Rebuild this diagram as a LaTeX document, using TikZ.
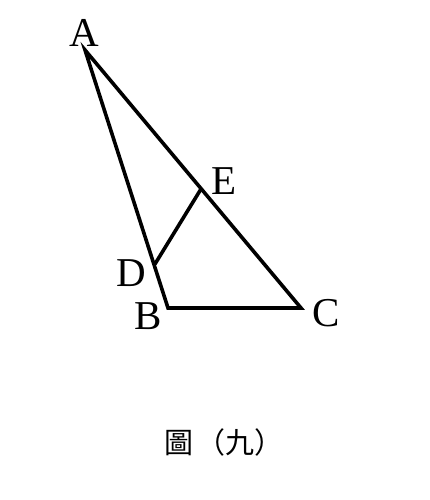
\documentclass[tikz,border=0pt]{standalone}
\usepackage{fontspec}
\setmainfont{Liberation Serif}
\newfontfamily\cjk{Noto Sans CJK TC}
\begin{document}
\begin{tikzpicture}[x=1pt,y=-1pt,
  edge/.style={line width=3.6pt,line join=miter,line cap=butt},
  lbl/.style={font=\fontsize{41}{41}\selectfont,inner sep=0pt},
  captext/.style={font=\cjk\fontsize{29}{29}\selectfont,inner sep=0pt}]
\useasboundingbox (0,0) rectangle (430,500);
\coordinate (A) at (85,50);
\coordinate (B) at (168,308);
\coordinate (C) at (301,308);
\coordinate (D) at (155,264);
\coordinate (E) at (201,189);
\draw[edge] (A) -- (B) -- (C) -- cycle;
\draw[edge] (D) -- (E);
\node[lbl] (lA) at (84,33) {A};
\node[lbl] (lB) at (148,316) {B};
\node[lbl] (lC) at (326,313) {C};
\node[lbl] (lD) at (131,273) {D};
\node[lbl] (lE) at (224,181) {E};
\node[captext] (cp) at (224,442) {圖\hspace{4pt}（九）};
\end{tikzpicture}
\end{document}
